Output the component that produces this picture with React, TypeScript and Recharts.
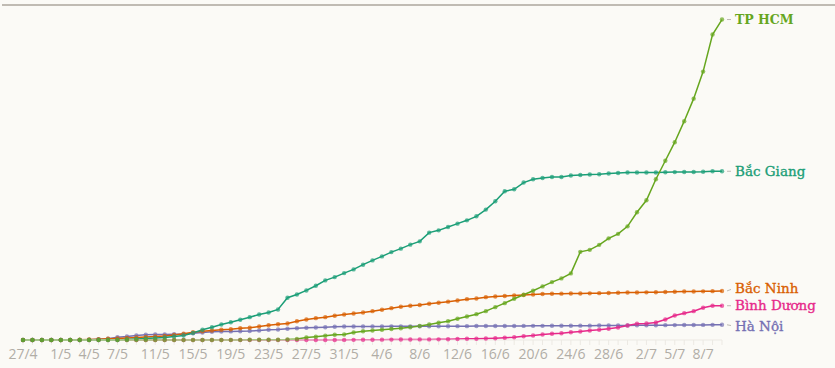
import { LineChart, Line, XAxis, YAxis } from "recharts";

const dates = [
  "27/4", "28/4", "29/4", "30/4",
  "1/5", "2/5", "3/5", "4/5", "5/5", "6/5", "7/5", "8/5", "9/5", "10/5",
  "11/5", "12/5", "13/5", "14/5", "15/5", "16/5", "17/5", "18/5", "19/5", "20/5",
  "21/5", "22/5", "23/5", "24/5", "25/5", "26/5", "27/5", "28/5", "29/5", "30/5", "31/5",
  "1/6", "2/6", "3/6", "4/6", "5/6", "6/6", "7/6", "8/6", "9/6", "10/6",
  "11/6", "12/6", "13/6", "14/6", "15/6", "16/6", "17/6", "18/6", "19/6", "20/6",
  "21/6", "22/6", "23/6", "24/6", "25/6", "26/6", "27/6", "28/6", "29/6", "30/6",
  "1/7", "2/7", "3/7", "4/7", "5/7", "6/7", "7/7", "8/7", "9/7", "10/7",
];

const tickLabels = [
  "27/4", "1/5", "4/5", "7/5", "11/5", "15/5", "19/5", "23/5", "27/5", "31/5",
  "4/6", "8/6", "12/6", "16/6", "20/6", "24/6", "28/6", "2/7", "5/7", "8/7",
];

const hcm = [
  0, 0, 0, 0, 0, 0, 0, 0, 0, 0, 0, 0, 0, 0, 0, 0, 0, 0, 0, 0,
  0, 0, 3, 3, 7, 7, 10, 10, 17, 34, 85, 112, 146, 180, 187, 255, 296, 323, 350, 374,
  401, 435, 476, 527, 585, 639, 721, 799, 877, 979, 1115, 1251, 1401, 1537, 1673, 1819, 1965, 2091, 2261, 2992,
  3060, 3230, 3451, 3604, 3859, 4335, 4743, 5457, 6086, 6715, 7429, 8194, 9112, 10370, 10880,
];

const bacGiang = [
  0, 0, 0, 0, 0, 0, 0, 0, 0, 0, 0, 17, 34, 51, 68, 85, 119, 153, 238, 347,
  435, 527, 605, 687, 775, 867, 935, 1037, 1435, 1547, 1683, 1843, 2023, 2135, 2271, 2397, 2557, 2703, 2839, 2985,
  3101, 3237, 3349, 3645, 3723, 3835, 3951, 4063, 4199, 4427, 4709, 5049, 5117, 5345, 5457, 5501, 5535, 5535, 5583, 5603,
  5617, 5627, 5651, 5671, 5685, 5685, 5685, 5687, 5695, 5700, 5703, 5706, 5710, 5729, 5729,
];

const bacNinh = [
  0, 0, 0, 0, 0, 0, 7, 17, 27, 41, 51, 68, 85, 102, 119, 136, 170, 211, 265, 299,
  323, 347, 367, 401, 415, 459, 503, 537, 561, 639, 697, 741, 775, 823, 867, 901, 935, 979, 1027, 1081,
  1129, 1163, 1190, 1231, 1265, 1302, 1343, 1387, 1411, 1455, 1479, 1496, 1513, 1530, 1547, 1564, 1571, 1574, 1578, 1581,
  1584, 1591, 1598, 1605, 1612, 1615, 1618, 1622, 1632, 1639, 1646, 1649, 1652, 1659, 1666,
];

const binhDuong = [
  0, 0, 0, 0, 0, 0, 0, 0, 0, 0, 0, 0, 0, 0, 0, 0, 0, 0, 0, 0,
  0, 0, 0, 0, 0, 0, 0, 0, 0, 0, 0, 0, 0, 0, 3, 5, 7, 10, 12, 14,
  17, 17, 20, 20, 22, 27, 34, 41, 44, 51, 61, 75, 95, 129, 153, 187, 211, 231, 265, 289,
  323, 347, 381, 425, 493, 551, 561, 595, 697, 833, 911, 979, 1095, 1163, 1163,
];

const haNoi = [
  0, 0, 0, 0, 0, 0, 0, 10, 24, 41, 95, 119, 153, 177, 187, 187, 197, 197, 231, 255,
  279, 289, 292, 299, 306, 323, 347, 357, 381, 401, 415, 425, 435, 449, 456, 459, 460, 461, 462, 463,
  464, 464, 466, 467, 468, 469, 470, 471, 473, 473, 474, 476, 477, 478, 480, 481, 482, 484, 485, 487,
  488, 490, 492, 494, 496, 498, 500, 502, 504, 506, 508, 510, 512, 515, 517,
];

const data = dates.map((date, i) => ({
  date,
  hcm: hcm[i],
  bacGiang: bacGiang[i],
  bacNinh: bacNinh[i],
  binhDuong: binhDuong[i],
  haNoi: haNoi[i],
}));

const series = [
  { key: "haNoi", name: "Hà Nội", color: "#7570b3", dy: 1.5, bold: false },
  { key: "binhDuong", name: "Bình Dương", color: "#e7298a", dy: 0, bold: false },
  { key: "bacNinh", name: "Bắc Ninh", color: "#d95f02", dy: -3, bold: false },
  { key: "bacGiang", name: "Bắc Giang", color: "#1b9e77", dy: 0, bold: false },
  { key: "hcm", name: "TP HCM", color: "#66a61e", dy: 0, bold: true },
];

const LAST = dates.length - 1;

// name tag at the end of each line, with a short grey tick in front of it
function makeEndLabel(name: string, color: string, dy: number, bold: boolean) {
  return function EndLabel(props: any) {
    const { x, y, index } = props;
    if (index !== LAST) return null;
    return (
      <g>
        <line x1={x + 5} x2={x + 9} y1={y} y2={y + dy * 0.5} stroke="#bdb9b2" strokeWidth={1} />
        <text
          x={x + 13}
          y={y + dy}
          dy="0.35em"
          fill={color}
          stroke={bold ? "none" : color}
          strokeWidth={0.35}
          fontSize={bold ? 12.5 : 13.5}
          fontWeight={bold ? 700 : 400}
          fontFamily="'DejaVu Serif', serif"
        >
          {name}
        </text>
      </g>
    );
  };
}

export default function App() {
  return (
    <div
      style={{
        position: "absolute",
        left: 0,
        top: 0,
        width: 835,
        height: 368,
        background: "#fbfaf6",
      }}
    >
      <div style={{ position: "absolute", left: 2, right: 0, top: 4, height: 2, background: "#c0bbb3" }} />
      <LineChart width={835} height={368} data={data} margin={{ top: 16, right: 113, left: 23, bottom: 0 }}>
        <XAxis
          dataKey="date"
          interval={0}
          height={28}
          tickSize={5}
          tickMargin={4}
          tickLine={{ stroke: "#ece9e3" }}
          axisLine={{ stroke: "#ece9e3" }}
          tick={{ fontSize: 14, fill: "#b1ada6", fontFamily: "'Open Sans', sans-serif" }}
          tickFormatter={(v: string) => (tickLabels.includes(v) ? v : "")}
        />
        <YAxis hide domain={[0, 11000]} />
        {series.map((s) => (
          <Line
            key={s.key}
            dataKey={s.key}
            name={s.name}
            type="linear"
            stroke={s.color}
            strokeWidth={1.5}
            dot={{ r: 2.2, fill: s.color, fillOpacity: 0.7, strokeWidth: 0 }}
            label={makeEndLabel(s.name, s.color, s.dy, s.bold)}
            isAnimationActive={false}
          />
        ))}
      </LineChart>
    </div>
  );
}
